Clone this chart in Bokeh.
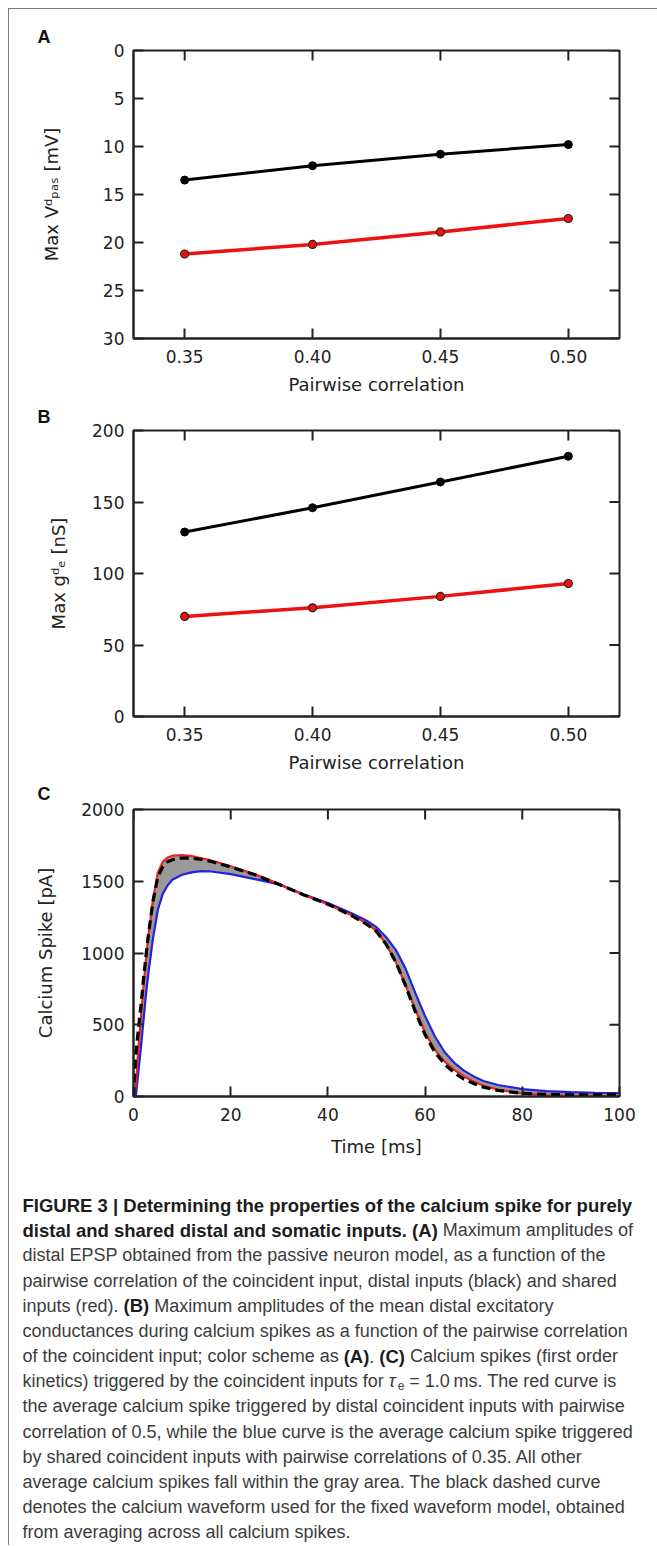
from bokeh.plotting import figure
from bokeh.models import Range1d, FixedTicker, NumeralTickFormatter, ColumnDataSource, Title
from bokeh.layouts import column
from bokeh.embed import file_html
from bokeh.resources import INLINE
from bokeh.core.properties import value

# ---------------- data ----------------
corr = [0.35, 0.40, 0.45, 0.50]
vpas_distal = [13.5, 12.0, 10.8, 9.8]
vpas_shared = [21.2, 20.2, 18.9, 17.5]
ge_distal = [129, 146, 164, 182]
ge_shared = [70, 76, 84, 93]

corr_ticks = [0.35, 0.40, 0.45, 0.50]
vpas_ticks = [0, 5, 10, 15, 20, 25, 30]
ge_ticks = [0, 50, 100, 150, 200]
time_ticks = [0, 20, 40, 60, 80, 100]
ca_ticks = [0, 500, 1000, 1500, 2000]

time_ms = [0, 0.5, 1, 1.5, 2, 2.5, 3, 4, 5, 6, 7, 8, 10, 12, 14, 16, 20, 25, 30, 35, 40,
           45, 48, 50, 52, 54, 56, 58, 60, 62, 64, 66, 68, 70, 72, 75, 80, 85, 90, 95, 100]
ca_red = [0, 80, 330, 540, 740, 930, 1100, 1370, 1560, 1635, 1665, 1678, 1682, 1675, 1660, 1645,
          1605, 1548, 1480, 1405, 1340, 1262, 1205, 1155, 1060, 935, 775, 605, 445, 325, 245, 185,
          140, 105, 75, 48, 20, 10, 5, 4, 3]
ca_blue = [0, 10, 170, 330, 510, 690, 840, 1100, 1300, 1410, 1470, 1510, 1545, 1562, 1570, 1568,
           1550, 1515, 1478, 1410, 1348, 1275, 1225, 1180, 1110, 1020, 890, 720, 560, 420, 310, 235,
           180, 140, 108, 80, 52, 38, 30, 26, 24]
ca_mean = [0, 300, 470, 620, 800, 960, 1110, 1360, 1530, 1600, 1635, 1650, 1662, 1660, 1652, 1638,
           1600, 1545, 1478, 1405, 1340, 1258, 1200, 1150, 1060, 935, 770, 590, 430, 310, 225, 165,
           120, 90, 65, 42, 22, 14, 12, 12, 12]

caption = [
    [("FIGURE 3 | Determining the properties of the calcium spike for purely", "b")],
    [("distal and shared distal and somatic inputs. (A)", "b"), (" Maximum amplitudes of", "r")],
    [("distal EPSP obtained from the passive neuron model, as a function of the", "r")],
    [("pairwise correlation of the coincident input, distal inputs (black) and shared", "r")],
    [("inputs (red). ", "r"), ("(B)", "b"), (" Maximum amplitudes of the mean distal excitatory", "r")],
    [("conductances during calcium spikes as a function of the pairwise correlation", "r")],
    [("of the coincident input; color scheme as ", "r"), ("(A)", "b"), (". ", "r"), ("(C)", "b"),
     (" Calcium spikes (first order", "r")],
    [("kinetics) triggered by the coincident inputs for ", "r"), ("\u03c4", "i"), ("e", "sub"),
     (" = 1.0\u2009ms. The red curve is", "r")],
    [("the average calcium spike triggered by distal coincident inputs with pairwise", "r")],
    [("correlation of 0.5, while the blue curve is the average calcium spike triggered", "r")],
    [("by shared coincident inputs with pairwise correlations of 0.35. All other", "r")],
    [("average calcium spikes fall within the gray area. The black dashed curve", "r")],
    [("denotes the calcium waveform used for the fixed waveform model, obtained", "r")],
    [("from averaging across all calcium spikes.", "r")],
]

# ---------------- styling ----------------
AX = "#222222"
TICK_FONT = "DejaVu Sans"
TICK_SIZE = "17px"
LAB_SIZE = "18px"
W = 648
FRAME_L = 124
FRAME_R = 38
FRAME_W = W - FRAME_L - FRAME_R
TICK_LEN = 10


def style(p, frame_h, xticks, yticks, xlabel, ylabel, ylab_standoff, xfmt=None,
          xlab_standoff=8):
    p.xgrid.visible = False
    p.ygrid.visible = False
    p.outline_line_color = AX
    p.outline_line_width = 2
    p.background_fill_color = "white"
    p.border_fill_color = "white"
    for ax, ticks in ((p.xaxis[0], xticks), (p.yaxis[0], yticks)):
        ax.ticker = FixedTicker(ticks=ticks)
        ax.major_tick_in = TICK_LEN
        ax.major_tick_out = 0
        ax.minor_tick_in = 0
        ax.minor_tick_out = 0
        ax.axis_line_color = AX
        ax.axis_line_width = 2
        ax.major_tick_line_color = AX
        ax.major_tick_line_width = 2
        ax.major_label_text_font = TICK_FONT
        ax.major_label_text_font_size = TICK_SIZE
        ax.major_label_text_color = AX
        ax.axis_label_text_font = TICK_FONT
        ax.axis_label_text_font_size = LAB_SIZE
        ax.axis_label_text_font_style = "normal"
        ax.axis_label_text_color = AX
    p.xaxis[0].axis_label = xlabel
    p.yaxis[0].axis_label = ylabel
    p.xaxis[0].major_label_standoff = 11
    p.xaxis[0].axis_label_standoff = xlab_standoff
    p.yaxis[0].major_label_standoff = 9
    p.yaxis[0].axis_label_standoff = ylab_standoff
    if xfmt:
        p.xaxis[0].formatter = NumeralTickFormatter(format=xfmt)
    # mirrored inward ticks on the top and right edges of the frame
    xr, yr = p.x_range, p.y_range
    dy = TICK_LEN * (yr.end - yr.start) / frame_h
    dx = TICK_LEN * (xr.end - xr.start) / FRAME_W
    p.segment(x0=xticks, y0=[yr.end] * len(xticks), x1=xticks, y1=[yr.end - dy] * len(xticks),
              line_color=AX, line_width=2)
    p.segment(x0=[xr.end] * len(yticks), y0=yticks, x1=[xr.end - dx] * len(yticks), y1=yticks,
              line_color=AX, line_width=2)


def letter(p, txt, standoff):
    t = Title(text=txt, align="left", offset=28 - FRAME_L, standoff=standoff,
              text_font="Liberation Sans", text_font_style="bold", text_font_size="18px",
              text_color="#111111")
    p.add_layout(t, "above")


# ---------------- panel A ----------------
HA = 288
pa = figure(width=W, height=392, min_border_left=FRAME_L, min_border_right=FRAME_R,
            min_border_top=41, min_border_bottom=63,
            x_range=Range1d(0.33, 0.52), y_range=Range1d(30, 0),
            toolbar_location=None, output_backend="svg")
style(pa, HA, corr_ticks, vpas_ticks, "Pairwise correlation",
      "Max V\u1d48\u209a\u2090\u209b [mV]", 38, "0.00")
pa.line(corr, vpas_distal, line_color="black", line_width=3)
pa.scatter(corr, vpas_distal, size=8, fill_color="black", line_color="black")
pa.line(corr, vpas_shared, line_color="#ee1111", line_width=3.5)
pa.scatter(corr, vpas_shared, size=8, fill_color="#ee1111", line_color="#222222", line_width=1.2)
letter(pa, "A", 8)

# ---------------- panel B ----------------
HB = 287
pb = figure(width=W, height=375, min_border_left=FRAME_L, min_border_right=FRAME_R,
            min_border_top=28, min_border_bottom=60,
            x_range=Range1d(0.33, 0.52), y_range=Range1d(0, 200),
            toolbar_location=None, output_backend="svg")
style(pb, HB, corr_ticks, ge_ticks, "Pairwise correlation",
      "Max g\u1d48\u2091 [nS]", 20, "0.00")
pb.line(corr, ge_distal, line_color="black", line_width=3)
pb.scatter(corr, ge_distal, size=8, fill_color="black", line_color="black")
pb.line(corr, ge_shared, line_color="#ee1111", line_width=3.5)
pb.scatter(corr, ge_shared, size=8, fill_color="#ee1111", line_color="#222222", line_width=1.2)
letter(pb, "B", 7)

# ---------------- panel C ----------------
HC = 288
pc = figure(width=W, height=394, min_border_left=FRAME_L, min_border_right=FRAME_R,
            min_border_top=32, min_border_bottom=74,
            x_range=Range1d(0, 100), y_range=Range1d(0, 2000),
            toolbar_location=None, output_backend="svg")
style(pc, HC, time_ticks, ca_ticks, "Time [ms]", "Calcium Spike [pA]", 22, xlab_standoff=12)
src = ColumnDataSource(dict(t=time_ms, red=ca_red, blue=ca_blue, mean=ca_mean))
pc.varea(x="t", y1="blue", y2="red", source=src, fill_color="#9a9a9a")
pc.line("t", "blue", source=src, line_color="#2222dd", line_width=2.2)
pc.line("t", "red", source=src, line_color="#ee2222", line_width=2.2)
pc.line("t", "mean", source=src, line_color="black", line_width=3.2, line_dash="9 5")
letter(pc, "C", 11)

# ---------------- caption ----------------
CAP_H = 375
cp = figure(width=W, height=CAP_H, min_border=0, x_range=Range1d(0, W), y_range=Range1d(CAP_H, 0),
            toolbar_location=None, output_backend="svg")
cp.frame_align = False
cp.axis.visible = False
cp.grid.visible = False
cp.outline_line_color = None

R_UP = "A667 B667 C722 D722 E667 F611 G778 H722 I278 J500 K667 L556 M833 N722 O778 P667 Q778 R722 S667 T611 U722 V667 W944 X667 Y667 Z611"
R_LO = "a556 b556 c500 d556 e556 f278 g556 h556 i222 j222 k500 l222 m833 n556 o556 p556 q556 r333 s500 t278 u556 v500 w722 x500 y500 z500"
B_UP = "A722 B722 C722 D722 E667 F611 G778 H722 I278 J556 K722 L611 M833 N722 O778 P667 Q778 R722 S667 T611 U722 V667 W944 X667 Y667 Z611"
B_LO = "a556 b611 c556 d611 e556 f333 g611 h611 i278 j278 k556 l278 m889 n611 o611 p611 q611 r389 s556 t333 u611 v556 w778 x556 y556 z500"


def build(*specs, extra):
    d = {}
    for s in specs:
        for tok in s.split():
            d[tok[0]] = int(tok[1:])
    for c in "0123456789":
        d[c] = 556
    d.update(extra)
    return d


WR = build(R_UP, R_LO, extra={" ": 278, "(": 333, ")": 333, ",": 278, ".": 278, ";": 278,
                              ":": 278, "|": 260, "=": 584, "-": 333, "\u2009": 170})
WB = build(B_UP, B_LO, extra={" ": 278, "(": 333, ")": 333, ",": 278, ".": 278, ";": 333,
                              ":": 333, "|": 280, "=": 584, "-": 333})

FS_R = 18.0
FS_B = 18.5
X0 = 13
BASE0 = 34.5
LH = 25.18


def seg_width(txt, kind):
    if kind == "sub":
        return 0.556 * 12 * len(txt)
    if kind == "i":
        return 0.5 * FS_R * len(txt)
    if kind == "b":
        return sum(WB.get(c, 556) for c in txt) / 1000.0 * FS_B
    return sum(WR.get(c, 556) for c in txt) / 1000.0 * FS_R


segs = {k: dict(x=[], y=[], t=[]) for k in ("r", "b", "i", "sub")}
for i, line in enumerate(caption):
    x = X0
    yb = BASE0 + LH * i
    for txt, kind in line:
        lead = len(txt) - len(txt.lstrip(" "))
        x += seg_width(" " * lead, kind)
        body = txt.strip(" ")
        if body:
            segs[kind]["x"].append(x)
            segs[kind]["y"].append(yb + (4 if kind == "sub" else 0))
            segs[kind]["t"].append(body)
        x += seg_width(txt[lead:], kind)

styles_cap = {"r": ("normal", "#3c3c3c", "18px"), "b": ("bold", "#1c1c1c", "18.5px"),
              "i": ("italic", "#3c3c3c", "18px"), "sub": ("normal", "#3c3c3c", "12px")}
for kind, d in segs.items():
    fs, col, size = styles_cap[kind]
    cp.text(x=d["x"], y=d["y"], text=d["t"], text_font=value("Liberation Sans"),
            text_font_style=fs, text_color=col, text_font_size=size,
            text_baseline="alphabetic", text_align="left")

layout = column(pa, pb, pc, cp, spacing=0,
                styles={"border-left": "1px solid #7a7a7a", "border-top": "1px solid #7a7a7a",
                        "margin-left": "8px", "margin-top": "8px"})

open("out.html", "w").write(file_html(layout, INLINE))
